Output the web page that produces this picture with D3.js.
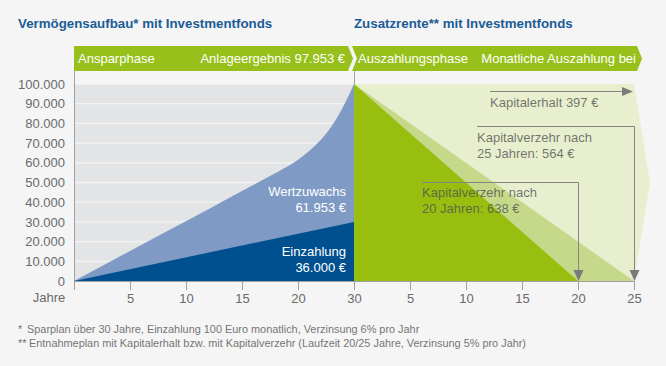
<!DOCTYPE html>
<html><head><meta charset="utf-8">
<script src="https://cdn.jsdelivr.net/npm/d3@7"></script>
<style>
html,body{margin:0;padding:0;background:#f5f5f5;}
svg{display:block;font-family:"Liberation Sans",Arial,sans-serif;}
</style></head>
<body><svg id="c" width="666" height="366"></svg>
<script>
// ---- data ----
const saveYears   = [0, 5, 10, 15, 18, 20, 22, 24, 26, 27, 28, 29, 30];
const totalValue  = [0, 12700, 25400, 38000, 45700, 50800, 55800, 61500, 69500, 74800, 81500, 90000, 100000];
const depositYears = [0, 30];
const depositValue = [0, 30000];
const payYears20 = [0, 20];
const verzehr20  = [100000, 0];
const payYears25 = [0, 25];
const verzehr25  = [100000, 0];
const erhaltYears = [0, 25];
const erhaltValue = [100000, 100000];
const yTicks = [0, 10000, 20000, 30000, 40000, 50000, 60000, 70000, 80000, 90000, 100000];
const saveTickLabels = ["", "5", "10", "15", "20", "30"];
const payTicks = [5, 10, 15, 20, 25];
const titles = ["Vermögensaufbau* mit Investmentfonds", "Zusatzrente** mit Investmentfonds"];
const bannerLeft = ["Ansparphase", "Anlageergebnis 97.953 €"];
const bannerRight = ["Auszahlungsphase", "Monatliche Auszahlung bei"];
const areaLabels = [["Wertzuwachs", "61.953 €"], ["Einzahlung", "36.000 €"]];
const noteLines = [["*", "Sparplan über 30 Jahre, Einzahlung 100 Euro monatlich, Verzinsung 6% pro Jahr"],
                   ["**", "Entnahmeplan mit Kapitalerhalt bzw. mit Kapitalverzehr (Laufzeit 20/25 Jahre, Verzinsung 5% pro Jahr)"]];

// ---- scales ----
const svg = d3.select("#c");
const xSave = d3.scaleLinear([0, 30], [74, 354]);
const xPay = d3.scaleLinear([0, 25], [354, 634]);
const y = d3.scaleLinear([0, 100000], [281, 84]);
const xSaveTicks = d3.scalePoint(saveTickLabels, [74, 354]);
const de = d3.formatLocale({decimal: ",", thousands: ".", grouping: [3], currency: ["", " €"]});
const fmt = de.format(",");

const GRAY_TXT = "#6a6a6a", AXIS = "#a0a0a0";

// titles
svg.append("text").attr("x", 18).attr("y", 28).attr("font-size", 13.3).attr("font-weight", "bold")
  .attr("fill", "#1c5c96").text(titles[0]);
svg.append("text").attr("x", 354).attr("y", 28).attr("font-size", 13.3).attr("font-weight", "bold")
  .attr("fill", "#1c5c96").text(titles[1]);

// banners
const bTop = 46, bBot = 71, bMid = (bTop + bBot) / 2;
const GREEN_B = "#98c01a";
svg.append("polygon").attr("fill", GREEN_B)
  .attr("points", [[xSave(0), bTop], [xSave(30) - 6, bTop], [xSave(30) - 1, bMid], [xSave(30) - 6, bBot], [xSave(0), bBot]].join(" "));
svg.append("polygon").attr("fill", GREEN_B)
  .attr("points", [[xPay(0) - 2, bTop], [xPay(25) + 3, bTop], [xPay(25) + 8, bMid], [xPay(25) + 3, bBot], [xPay(0) - 2, bBot], [xPay(0) + 3, bMid]].join(" "));
svg.append("text").attr("x", 78).attr("y", 63).attr("font-size", 13).attr("fill", "#fff").text(bannerLeft[0]);
svg.append("text").attr("x", 345).attr("y", 63).attr("font-size", 13).attr("fill", "#fff").attr("text-anchor", "end").text(bannerLeft[1]);
svg.append("text").attr("x", 358).attr("y", 63).attr("font-size", 13).attr("fill", "#fff").text(bannerRight[0]);
svg.append("text").attr("x", 636).attr("y", 63).attr("font-size", 13).attr("fill", "#fff").attr("text-anchor", "end").text(bannerRight[1]);

// left plot background + grid
svg.append("rect").attr("x", xSave(0)).attr("y", y(100000)).attr("width", xSave(30) - xSave(0))
  .attr("height", y(0) - y(100000)).attr("fill", "#e3e4e6");
svg.append("g").selectAll("line").data(yTicks.slice(1)).join("line")
  .attr("x1", xSave(0)).attr("x2", xSave(30)).attr("y1", d => y(d)).attr("y2", d => y(d))
  .attr("stroke", "#f3f3f3").attr("stroke-width", 1.3);

// right background (Kapitalerhalt), arrow shaped
const erhaltPts = erhaltYears.map((t, i) => [xPay(t), y(erhaltValue[i])]);
svg.append("polygon").attr("fill", "#e8efcf")
  .attr("points", [[xPay(0), y(0)], ...erhaltPts, [xPay(25) + 16, y(50000)], [xPay(25), y(0)]].join(" "));

// x axis line + ticks
svg.append("line").attr("x1", xSave(0)).attr("x2", xPay(25)).attr("y1", y(0) + 0.5).attr("y2", y(0) + 0.5)
  .attr("stroke", AXIS);
const axSave = svg.append("g").attr("transform", `translate(0,${y(0)})`)
  .call(d3.axisBottom(xSaveTicks).tickValues(saveTickLabels.slice(1)).tickSize(9).tickPadding(4));
const axPay = svg.append("g").attr("transform", `translate(0,${y(0)})`)
  .call(d3.axisBottom(xPay).tickValues(payTicks).tickSize(9).tickPadding(4));
[axSave, axPay].forEach(g => {
  g.select(".domain").remove();
  g.selectAll("line").attr("stroke", AXIS);
  g.selectAll("text").attr("font-size", 13).attr("fill", GRAY_TXT).attr("font-family", "Liberation Sans, Arial, sans-serif");
});
svg.append("text").attr("x", 49).attr("y", 302).attr("text-anchor", "middle").attr("font-size", 13)
  .attr("fill", GRAY_TXT).text("Jahre");

// y axis
const axY = svg.append("g").attr("transform", `translate(${xSave(0)},0)`)
  .call(d3.axisLeft(y).tickValues(yTicks).tickFormat(fmt).tickSize(0).tickPadding(9));
axY.select(".domain").remove();
axY.selectAll("text").attr("font-size", 13).attr("fill", GRAY_TXT).attr("font-family", "Liberation Sans, Arial, sans-serif");
svg.append("line").attr("x1", xSave(0) + 0.5).attr("x2", xSave(0) + 0.5).attr("y1", bBot).attr("y2", y(0) + 9).attr("stroke", AXIS);
svg.append("line").attr("x1", xSave(30) + 0.5).attr("x2", xSave(30) + 0.5).attr("y1", bBot).attr("y2", y(100000)).attr("stroke", AXIS);

// left areas
const totalArea = d3.area().x((d, i) => xSave(saveYears[i])).y0(y(0)).y1(d => y(d)).curve(d3.curveMonotoneX);
svg.append("path").datum(totalValue).attr("d", totalArea).attr("fill", "#7f9bc5");
const depArea = d3.area().x((d, i) => xSave(depositYears[i])).y0(y(0)).y1(d => y(d));
svg.append("path").datum(depositValue).attr("d", depArea).attr("fill", "#00508f");

// right areas
const area25 = d3.area().x((d, i) => xPay(payYears25[i])).y0(y(0)).y1(d => y(d));
svg.append("path").datum(verzehr25).attr("d", area25).attr("fill", "#c6d98b");
const area20 = d3.area().x((d, i) => xPay(payYears20[i])).y0(y(0)).y1(d => y(d));
svg.append("path").datum(verzehr20).attr("d", area20).attr("fill", "#98be10");

// area labels
svg.append("text").attr("x", 346).attr("y", 196).attr("text-anchor", "end").attr("font-size", 13).attr("fill", "#fff").text(areaLabels[0][0]);
svg.append("text").attr("x", 346).attr("y", 212).attr("text-anchor", "end").attr("font-size", 13).attr("fill", "#fff").text(areaLabels[0][1]);
svg.append("text").attr("x", 346).attr("y", 256).attr("text-anchor", "end").attr("font-size", 13).attr("fill", "#fff").text(areaLabels[1][0]);
svg.append("text").attr("x", 346).attr("y", 272).attr("text-anchor", "end").attr("font-size", 13).attr("fill", "#fff").text(areaLabels[1][1]);

// annotation arrows
const ARR = "#858585";
const ann = svg.append("g");
// Kapitalerhalt
ann.append("line").attr("x1", 490).attr("x2", xPay(25) - 8).attr("y1", 91.5).attr("y2", 91.5).attr("stroke", ARR);
ann.append("polygon").attr("fill", "#7a7a7a").attr("points", [[xPay(25) - 12, 87], [xPay(25) - 1, 91.5], [xPay(25) - 12, 96]].join(" "));
// 25 years
ann.append("polyline").attr("fill", "none").attr("stroke", ARR)
  .attr("points", [[477, 126.5], [xPay(25) + 0.5, 126.5], [xPay(25) + 0.5, y(0) - 8]].join(" "));
ann.append("polygon").attr("fill", "#7a7a7a").attr("points", [[xPay(25) - 4.5, y(0) - 11], [xPay(25) + 5.5, y(0) - 11], [xPay(25) + 0.5, y(0)]].join(" "));
// 20 years
ann.append("polyline").attr("fill", "none").attr("stroke", ARR)
  .attr("points", [[422, 182.5], [xPay(20) + 0.5, 182.5], [xPay(20) + 0.5, y(0) - 8]].join(" "));
ann.append("polygon").attr("fill", "#7a7a7a").attr("points", [[xPay(20) - 4.5, y(0) - 11], [xPay(20) + 5.5, y(0) - 11], [xPay(20) + 0.5, y(0)]].join(" "));

const annTxt = (x, yy, t) => ann.append("text").attr("x", x).attr("y", yy).attr("font-size", 13)
  .attr("fill", "#505050").attr("fill-opacity", 0.78).text(t);
annTxt(490, 107, "Kapitalerhalt 397 €");
annTxt(477, 142, "Kapitalverzehr nach");
annTxt(477, 158, "25 Jahren: 564 €");
annTxt(422, 197, "Kapitalverzehr nach");
annTxt(422, 213, "20 Jahren: 638 €");

// footnotes
noteLines.forEach((ln, i) => {
  const t = svg.append("text").attr("y", 333 + i * 14).attr("font-size", 10.9)
    .attr("font-family", "'Liberation Sans', Arial, sans-serif").attr("fill", "#757575");
  t.append("tspan").attr("x", 18).text(ln[0]);
  t.append("tspan").attr("x", i === 0 ? 27 : 29).text(ln[1]);
});
</script></body></html>
